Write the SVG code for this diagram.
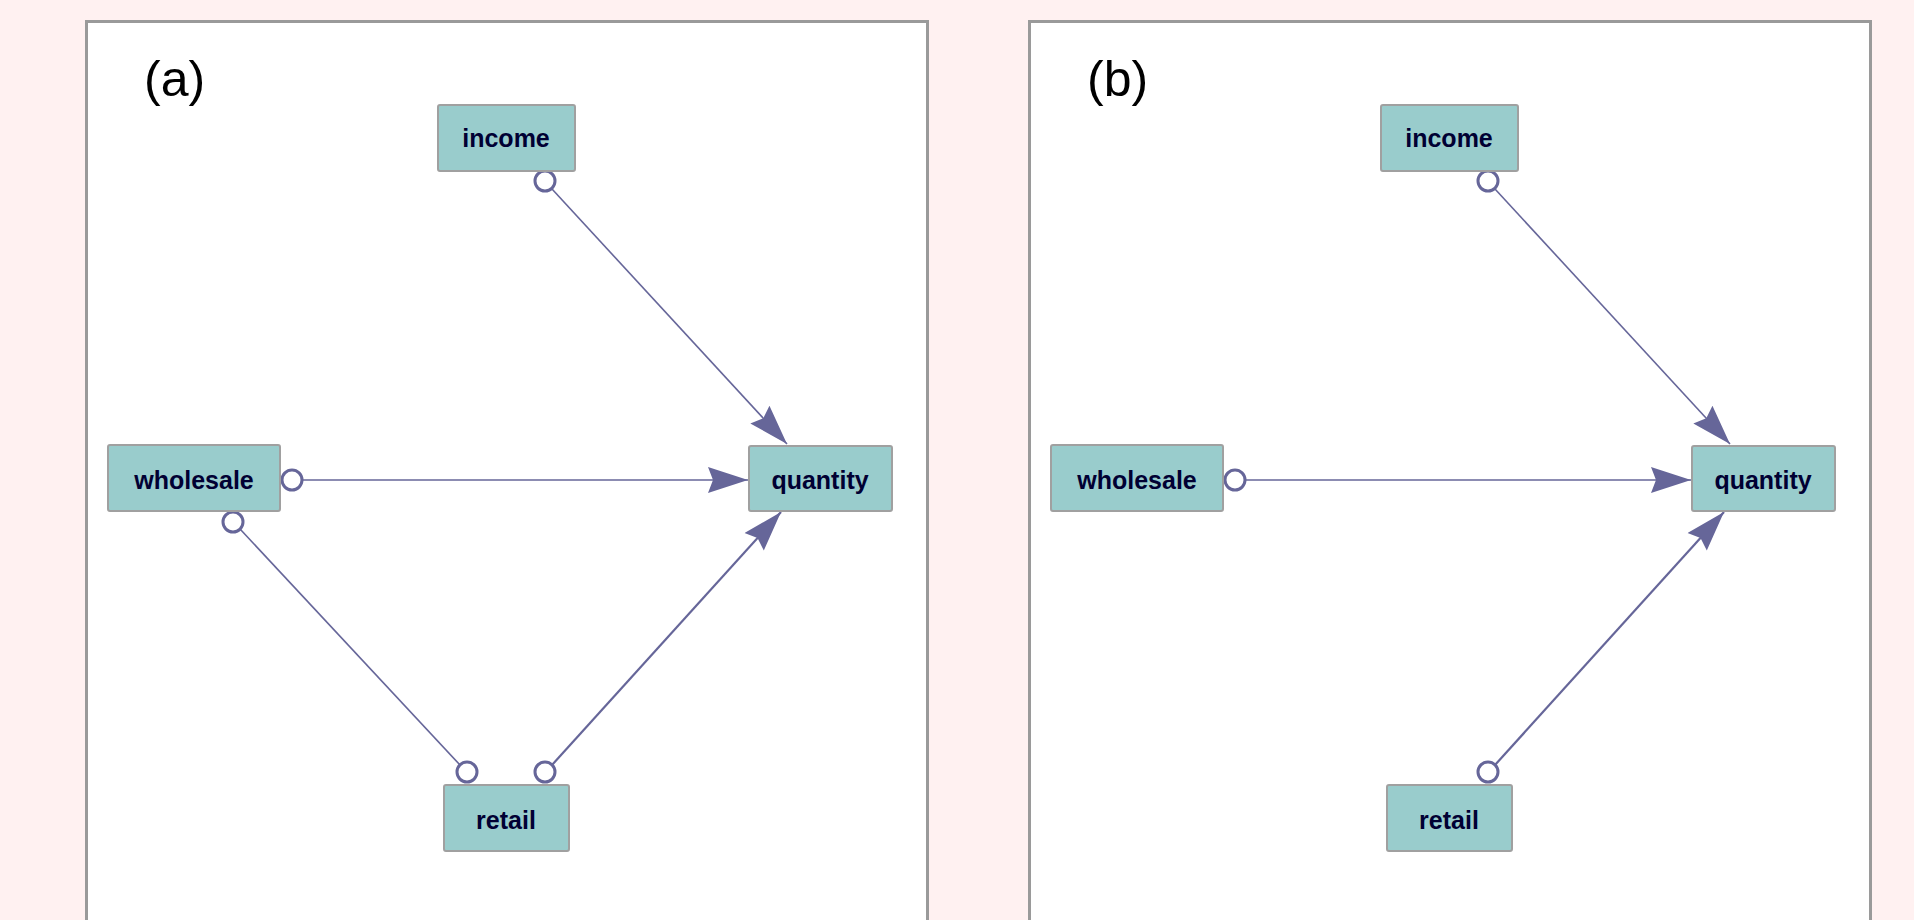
<svg xmlns="http://www.w3.org/2000/svg" width="1914" height="920" viewBox="0 0 1914 920">
<style>
.panel{fill:#ffffff;stroke:#9a9a9a;stroke-width:3}
.box{fill:#99cccc;stroke:#a0a0a0;stroke-width:2}
.lbl{font-family:"Liberation Sans",Arial,sans-serif;font-weight:bold;font-size:25px;fill:#000033;text-anchor:middle}
.tag{font-family:"Liberation Sans",Arial,sans-serif;font-size:50px;fill:#000000}
.edge{stroke:#666699;fill:none}
.dot{fill:#ffffff;stroke:#666699;stroke-width:3}
</style>
<defs>
<marker id="arr" markerUnits="userSpaceOnUse" markerWidth="46" markerHeight="30" refX="41" refY="13" orient="auto" viewBox="0 0 46 30">
<path d="M1,0 L41,13 L1,26 L6,13 Z" fill="#666699"/>
</marker>
</defs>
<rect x="0" y="0" width="1914" height="920" fill="#fff1f1"/>
<rect class="panel" x="86.5" y="21.5" width="841" height="920"/>
<rect class="panel" x="1029.5" y="21.5" width="841" height="920"/>
<text class="tag" x="144" y="96">(a)</text>
<text class="tag" x="1087" y="96">(b)</text>

<g id="connectors">
<line class="edge" stroke-width="1.6" x1="552" y1="189" x2="787" y2="444" marker-end="url(#arr)"/>
<line class="edge" stroke-width="1.6" x1="302" y1="480" x2="748" y2="480" marker-end="url(#arr)"/>
<line class="edge" stroke-width="2.2" x1="552" y1="765" x2="781" y2="512" marker-end="url(#arr)"/>
<line class="edge" stroke-width="1.6" x1="240" y1="529" x2="460" y2="765"/>
<circle class="dot" cx="545" cy="181" r="10"/>
<circle class="dot" cx="292" cy="480" r="10"/>
<circle class="dot" cx="233" cy="522" r="10"/>
<circle class="dot" cx="467" cy="772" r="10"/>
<circle class="dot" cx="545" cy="772" r="10"/>

<line class="edge" stroke-width="1.6" x1="1495" y1="189" x2="1730" y2="444" marker-end="url(#arr)"/>
<line class="edge" stroke-width="1.6" x1="1245" y1="480" x2="1691" y2="480" marker-end="url(#arr)"/>
<line class="edge" stroke-width="2.2" x1="1495" y1="765" x2="1724" y2="512" marker-end="url(#arr)"/>
<circle class="dot" cx="1488" cy="181" r="10"/>
<circle class="dot" cx="1235" cy="480" r="10"/>
<circle class="dot" cx="1488" cy="772" r="10"/>
</g>

<g id="a-income"><rect class="box" x="438" y="105" width="137" height="66" rx="2"/><text class="lbl" x="506" y="147">income</text></g>
<g id="a-wholesale"><rect class="box" x="108" y="445" width="172" height="66" rx="2"/><text class="lbl" x="194" y="489">wholesale</text></g>
<g id="a-quantity"><rect class="box" x="749" y="446" width="143" height="65" rx="2"/><text class="lbl" x="820" y="489">quantity</text></g>
<g id="a-retail"><rect class="box" x="444" y="785" width="125" height="66" rx="2"/><text class="lbl" x="506" y="829">retail</text></g>

<g id="b-income"><rect class="box" x="1381" y="105" width="137" height="66" rx="2"/><text class="lbl" x="1449" y="147">income</text></g>
<g id="b-wholesale"><rect class="box" x="1051" y="445" width="172" height="66" rx="2"/><text class="lbl" x="1137" y="489">wholesale</text></g>
<g id="b-quantity"><rect class="box" x="1692" y="446" width="143" height="65" rx="2"/><text class="lbl" x="1763" y="489">quantity</text></g>
<g id="b-retail"><rect class="box" x="1387" y="785" width="125" height="66" rx="2"/><text class="lbl" x="1449" y="829">retail</text></g>
</svg>
